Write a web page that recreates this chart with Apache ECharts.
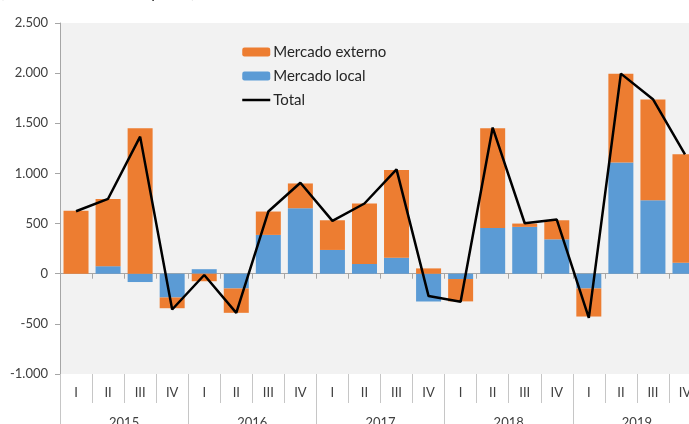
<!DOCTYPE html>
<html>
<head>
<meta charset="utf-8">
<script src="https://cdn.jsdelivr.net/npm/echarts@6/dist/echarts.min.js"></script>
<style>
html,body{margin:0;padding:0;background:#fff;}
#c{width:689px;height:424px;}
</style>
</head>
<body>
<div id="c"></div>
<script>
var quarters = ['I','II','III','IV','I','II','III','IV','I','II','III','IV','I','II','III','IV','I','II','III','IV'];
var years = ['2015','2016','2017','2018','2019'];
var local = [0, 75, -83, -237, 45, -147, 387, 653, 237, 97, 160, -277, -53, 457, 467, 343, -147, 1110, 733, 110];
var externo = [627, 670, 1450, -107, -75, -243, 233, 247, 296, 603, 873, 53, -223, 993, 33, 190, -280, 885, 1005, 1080];
var total = [623, 747, 1367, -357, -13, -390, 620, 907, 527, 700, 1040, -223, -280, 1457, 503, 540, -440, 1995, 1740, 1190];
var yTicks = {min: -1000, max: 2500, interval: 500};

var FONT = 'Lato';
var chart = echarts.init(document.getElementById('c'), null, {renderer: 'canvas'});
function fmt(v){
  var s = Math.abs(v).toString();
  s = s.replace(/\B(?=(\d{3})+(?!\d))/g, '.');
  return (v < 0 ? '-' : '') + s;
}
chart.setOption({
  animation: false,
  backgroundColor: '#ffffff',
  textStyle: {fontFamily: FONT},
  graphic: [{
    type: 'text', left: 0, top: -15,
    style: {text: '(Miles de millones de pesos)', font: '16px ' + FONT, fill: '#262626'}
  }],
  grid: {left: 60, top: 23, width: 641, height: 351, show: true, backgroundColor: '#f2f2f2', borderWidth: 0, outerBoundsMode: 'none'},
  legend: {
    data: ['Mercado externo', 'Mercado local', {name: 'Total', itemStyle: {opacity: 0}}],
    orient: 'vertical', left: 236, top: 39,
    itemWidth: 28, itemHeight: 9, itemGap: 8,
    lineStyle: {width: 2.5, color: '#000000'},
    textStyle: {fontFamily: FONT, fontSize: 15, color: '#262626', lineHeight: 16, padding: [0,0,0,-2]},
    selectedMode: false
  },
  xAxis: [{
    type: 'category', data: quarters, position: 'bottom',
    axisLine: {onZero: true, lineStyle: {color: '#a6a6a6', width: 1}},
    axisTick: {show: true, length: 5, lineStyle: {color: '#a6a6a6'}},
    axisLabel: {show: false}, splitLine: {show: false}
  }, {
    type: 'category', data: quarters, position: 'bottom',
    axisLine: {show: false, onZero: false},
    axisTick: {show: true, length: 29, interval: 0, lineStyle: {color: '#c6c6c6'}},
    axisLabel: {show: true, interval: 0, margin: 12, fontSize: 13, color: '#404040', fontFamily: FONT},
    splitLine: {show: false}
  }, {
    type: 'category', data: years, position: 'bottom',
    axisLine: {show: false, onZero: false},
    axisTick: {show: true, length: 60, interval: 0, lineStyle: {color: '#c6c6c6'}},
    axisLabel: {show: true, interval: 0, margin: 42, fontSize: 13, color: '#404040', fontFamily: FONT},
    splitLine: {show: false}
  }],
  yAxis: {
    type: 'value', min: yTicks.min, max: yTicks.max, interval: yTicks.interval,
    axisLine: {show: true, lineStyle: {color: '#a6a6a6'}},
    axisTick: {show: true, length: 5, lineStyle: {color: '#a6a6a6'}},
    axisLabel: {formatter: fmt, fontSize: 13, color: '#404040', margin: 12, fontFamily: FONT},
    splitLine: {show: false}
  },
  series: [{
    name: 'Mercado local', type: 'bar', stack: 's', data: local,
    barCategoryGap: '22%', itemStyle: {color: '#5b9bd5'}
  }, {
    name: 'Mercado externo', type: 'bar', stack: 's', data: externo,
    barCategoryGap: '22%', itemStyle: {color: '#ed7d31'}
  }, {
    name: 'Total', type: 'line', data: total, symbol: 'none', z: 5,
    lineStyle: {color: '#000000', width: 2.5}, itemStyle: {color: '#000000'}
  }]
});
</script>
</body>
</html>
